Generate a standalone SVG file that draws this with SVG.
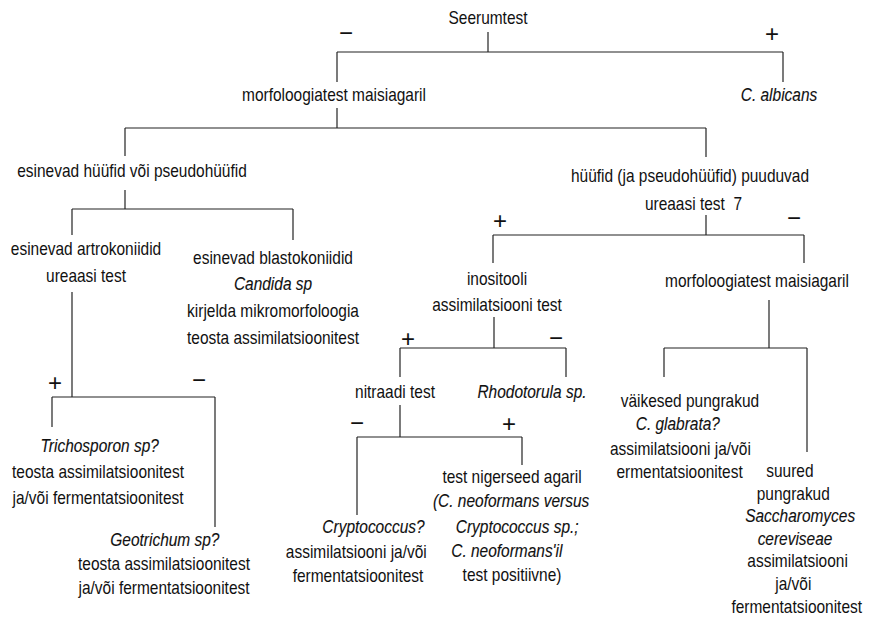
<svg xmlns="http://www.w3.org/2000/svg" width="870" height="620" viewBox="0 0 870 620">
<style>
text{font-family:"Liberation Sans",Arial,sans-serif;font-size:18px;fill:#111;text-anchor:middle}
.i{font-style:italic;stroke:#111;stroke-width:0.12}
.s{font-size:24px}
.pre{white-space:pre}
.c line{stroke:#222;stroke-width:1.2}
</style>
<rect width="870" height="620" fill="#fff"/>
<g class="c" id="connectors">
<line x1="488" y1="32" x2="488" y2="52"/>
<line x1="337" y1="52" x2="783" y2="52"/>
<line x1="337" y1="52" x2="337" y2="82"/>
<line x1="783" y1="52" x2="783" y2="82"/>
<line x1="337" y1="108" x2="337" y2="128"/>
<line x1="125" y1="128" x2="706" y2="128"/>
<line x1="125" y1="128" x2="125" y2="156"/>
<line x1="706" y1="128" x2="706" y2="157"/>
<line x1="125" y1="190" x2="125" y2="209"/>
<line x1="72" y1="209" x2="293" y2="209"/>
<line x1="72" y1="209" x2="72" y2="235"/>
<line x1="293" y1="209" x2="293" y2="240"/>
<line x1="72" y1="292" x2="72" y2="397"/>
<line x1="52" y1="397" x2="215" y2="397"/>
<line x1="52" y1="397" x2="52" y2="427"/>
<line x1="215" y1="397" x2="215" y2="527"/>
<line x1="706" y1="215" x2="706" y2="235"/>
<line x1="493" y1="235" x2="804" y2="235"/>
<line x1="493" y1="235" x2="493" y2="263"/>
<line x1="804" y1="235" x2="804" y2="263"/>
<line x1="494" y1="317" x2="494" y2="348"/>
<line x1="400" y1="348" x2="566" y2="348"/>
<line x1="400" y1="348" x2="400" y2="377"/>
<line x1="566" y1="348" x2="566" y2="377"/>
<line x1="400" y1="405" x2="400" y2="437"/>
<line x1="357" y1="437" x2="522" y2="437"/>
<line x1="357" y1="437" x2="357" y2="515"/>
<line x1="522" y1="437" x2="522" y2="465"/>
<line x1="769" y1="300" x2="769" y2="348"/>
<line x1="664" y1="348" x2="807" y2="348"/>
<line x1="664" y1="348" x2="664" y2="377"/>
<line x1="807" y1="348" x2="807" y2="452"/>
</g>
<g id="signs">
<text class="s" x="346" y="41">−</text>
<text class="s" x="772" y="42">+</text>
<text class="s" x="500" y="229">+</text>
<text class="s" x="794" y="226">−</text>
<text class="s" x="408" y="347">+</text>
<text class="s" x="556" y="346">−</text>
<text class="s" x="357" y="431">−</text>
<text class="s" x="509" y="432">+</text>
<text class="s" x="55" y="391">+</text>
<text class="s" x="199" y="388">−</text>
</g>
<g id="seerumtest" transform="translate(488 0) scale(.86 1)"><text x="0" y="24">Seerumtest</text></g>
<g id="morfo1" transform="translate(334 0) scale(.86 1)"><text x="0" y="101">morfoloogiatest maisiagaril</text></g>
<g id="albicans" transform="translate(779 0) scale(.86 1)"><text class="i" x="0" y="101">C. albicans</text></g>
<g id="hyyfid" transform="translate(132 0) scale(.86 1)"><text x="0" y="177">esinevad hüüfid või pseudohüüfid</text></g>
<g id="artro" transform="translate(86 0) scale(.86 1)"><text x="0" y="255">esinevad artrokoniidid</text><text x="0" y="282">ureaasi test</text></g>
<g id="blasto" transform="translate(273 0) scale(.86 1)"><text x="0" y="264">esinevad blastokoniidid</text><text class="i" x="0" y="290">Candida sp</text><text x="0" y="317">kirjelda mikromorfoloogia</text><text x="0" y="344">teosta assimilatsioonitest</text></g>
<g id="tricho" transform="translate(98 0) scale(.86 1)"><text class="i" x="2" y="452">Trichosporon sp?</text><text x="0" y="478">teosta assimilatsioonitest</text><text x="0" y="504">ja/või fermentatsioonitest</text></g>
<g id="geo" transform="translate(164 0) scale(.86 1)"><text class="i" x="1" y="546">Geotrichum sp?</text><text x="0" y="570">teosta assimilatsioonitest</text><text x="0" y="594">ja/või fermentatsioonitest</text></g>
<g id="puuduvad" transform="translate(690 0) scale(.86 1)"><text x="0" y="182">hüüfid (ja pseudohüüfid) puuduvad</text><text class="pre" x="4" y="210">ureaasi test  7</text></g>
<g id="inositool" transform="translate(497 0) scale(.86 1)"><text x="0" y="285">inositooli</text><text x="0" y="311">assimilatsiooni test</text></g>
<g id="morfo2" transform="translate(757 0) scale(.86 1)"><text x="0" y="287">morfoloogiatest maisiagaril</text></g>
<g id="nitraat" transform="translate(395 0) scale(.86 1)"><text x="0" y="398">nitraadi test</text></g>
<g id="rhodo" transform="translate(532 0) scale(.86 1)"><text class="i" x="0" y="398">Rhodotorula sp.</text></g>
<g id="crypto" transform="translate(358 0) scale(.86 1)"><text class="i" x="18" y="533">Cryptococcus?</text><text x="-2" y="558">assimilatsiooni ja/või</text><text x="0" y="582">fermentatsioonitest</text></g>
<g id="niger" transform="translate(512 0) scale(.86 1)"><text x="0" y="483">test nigerseed agaril</text><text class="i" x="-1" y="507">(C. neoformans versus</text><text class="i" x="6" y="533">Cryptococcus sp.;</text><text class="i" x="-6" y="557">C. neoformans'il</text><text x="0" y="581">test positiivne)</text></g>
<g id="glabrata" transform="translate(683 0) scale(.86 1)"><text x="8" y="407">väikesed pungrakud</text><text class="i" x="-6" y="430">C. glabrata?</text><text x="-3" y="455">assimilatsiooni ja/või</text><text x="-4" y="478">ermentatsioonitest</text></g>
<g id="sacch" transform="translate(795 0) scale(.86 1)"><text x="-6" y="477">suured</text><text x="-2" y="500">pungrakud</text><text class="i" x="6" y="522">Saccharomyces</text><text class="i" x="0" y="545">cereviseae</text><text x="3" y="567">assimilatsiooni</text><text x="-2" y="590">ja/või</text><text x="2" y="613">fermentatsioonitest</text></g>
</svg>
